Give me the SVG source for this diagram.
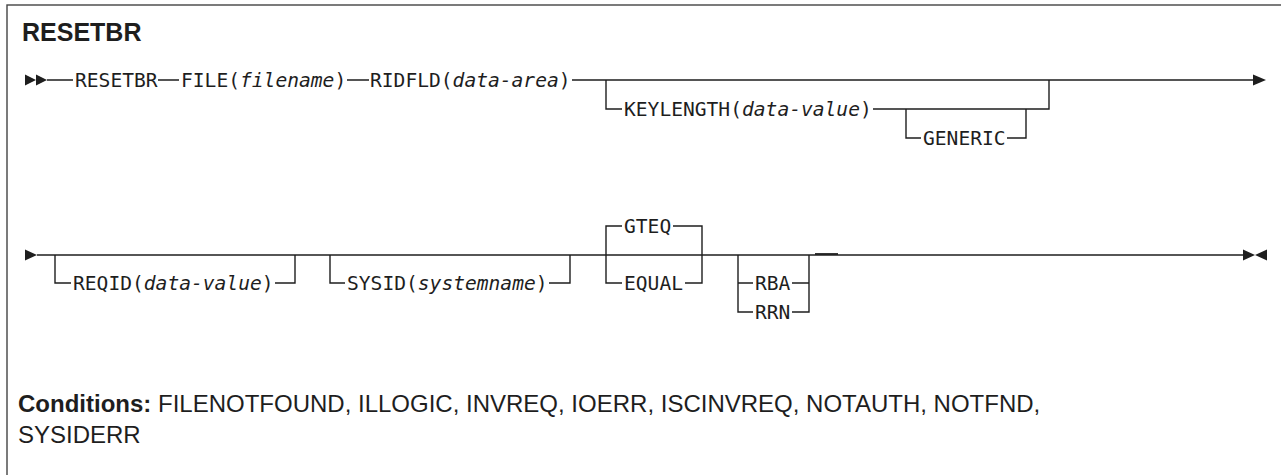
<svg xmlns="http://www.w3.org/2000/svg" width="1281" height="475" viewBox="0 0 1281 475">
<defs>
<style>
.frame{fill:none;stroke:#444;stroke-width:1.4}
.ln{fill:none;stroke:#1e1e1e;stroke-width:1.4}
.ar{fill:#1e1e1e;stroke:none}
.kw{font-family:"DejaVu Sans Mono",monospace;font-size:19.6px;fill:#1e1e1e}
.it{font-style:italic}
.title{font-family:"Liberation Sans",Arial,sans-serif;font-weight:bold;font-size:25px;fill:#1e1e1e}
.cond{font-family:"Liberation Sans",Arial,sans-serif;font-size:24px;fill:#1e1e1e}
.b{font-weight:bold}
</style>
</defs>
<rect class="frame" x="7" y="5" width="1290" height="490"/>
<text id="title" class="title" x="22" y="41">RESETBR</text>

<g id="connectors">
  <!-- line 1 -->
  <polygon class="ar" points="25,74.5 36,80 25,85.5"/>
  <polygon class="ar" points="36,74.5 47,80 36,85.5"/>
  <path class="ln" d="M47 80H73 M158 80H179 M347 80H369 M572 80H1254"/>
  <polygon class="ar" points="1253,74.5 1266,80 1253,85.5"/>
  <path class="ln" d="M606 80V109H622 M873 109H1049V80"/>
  <path class="ln" d="M906 109V138H921 M1007 138H1026V109"/>
  <!-- line 2 -->
  <polygon class="ar" points="25,249.5 37,255 25,260.5"/>
  <path class="ln" d="M37 255H1243"/>
  <path class="ln" d="M55 255V283H71 M275 283H295V255"/>
  <path class="ln" d="M330 255V283H345 M549 283H570V255"/>
  <path class="ln" d="M622 226H606V283H622 M673 226H702V283H685"/>
  <path class="ln" d="M738 255V312H753 M738 283H753 M792 283H809 M792 312H809V255"/>
  <path class="ln" d="M815 254H838" style="stroke-width:1.8"/>
  <polygon class="ar" points="1243,249.5 1255,255 1243,260.5"/>
  <polygon class="ar" points="1267,249.5 1255,255 1267,260.5"/>
</g>

<g id="n-resetbr"><text class="kw" x="75" y="87">RESETBR</text></g>
<g id="n-file">
  <text class="kw" x="181" y="87">FILE(</text>
  <text class="kw it" x="240" y="87">filename</text>
  <text class="kw" x="334.4" y="87">)</text>
</g>
<g id="n-ridfld">
  <text class="kw" x="370" y="87">RIDFLD(</text>
  <text class="kw it" x="452.6" y="87">data-area</text>
  <text class="kw" x="558.8" y="87">)</text>
</g>
<g id="n-keylength">
  <text class="kw" x="624" y="116">KEYLENGTH(</text>
  <text class="kw it" x="742" y="116">data-value</text>
  <text class="kw" x="860" y="116">)</text>
</g>
<g id="n-generic"><text class="kw" x="923" y="145">GENERIC</text></g>
<g id="n-reqid">
  <text class="kw" x="73" y="290">REQID(</text>
  <text class="kw it" x="143.8" y="290">data-value</text>
  <text class="kw" x="261.8" y="290">)</text>
</g>
<g id="n-sysid">
  <text class="kw" x="347" y="290">SYSID(</text>
  <text class="kw it" x="417.8" y="290">systemname</text>
  <text class="kw" x="535.8" y="290">)</text>
</g>
<g id="n-gteq"><text class="kw" x="624" y="233">GTEQ</text></g>
<g id="n-equal"><text class="kw" x="624" y="290">EQUAL</text></g>
<g id="n-rba"><text class="kw" x="755" y="290">RBA</text></g>
<g id="n-rrn"><text class="kw" x="755" y="319">RRN</text></g>

<g id="conditions">
<text class="cond" x="18" y="412"><tspan class="b">Conditions:</tspan> FILENOTFOUND, ILLOGIC, INVREQ, IOERR, ISCINVREQ, NOTAUTH, NOTFND,</text>
<text class="cond" x="18" y="443">SYSIDERR</text>
</g>
</svg>
